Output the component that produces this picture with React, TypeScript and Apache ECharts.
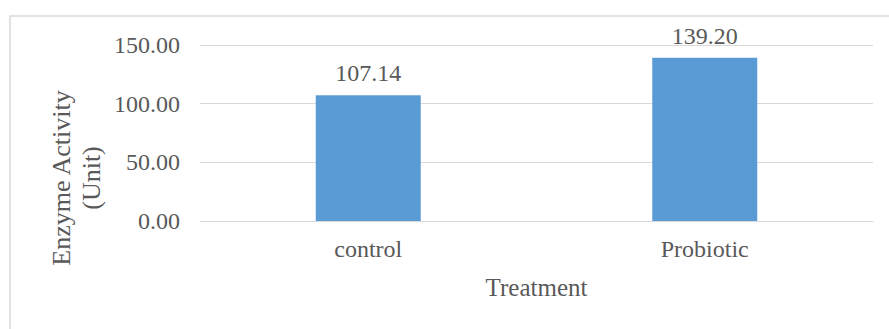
import React, { useEffect, useRef } from "react";
import * as echarts from "echarts";

const categories: string[] = ["control", "Probiotic"];
const activity: number[] = [107.14, 139.2];
const yTicks = { min: 0, max: 150, interval: 50 };

const FONT = '"Liberation Serif", "Times New Roman", serif';
const TEXT = "#595959";
const LINE = "#d9d9d9";
const BAR = "#5b9bd5";
const SIZE = 24;

export default function App() {
  const ref = useRef<HTMLDivElement>(null);

  useEffect(() => {
    if (!ref.current) return;
    const chart = echarts.init(ref.current, undefined, { renderer: "svg" });
    chart.setOption({
      animation: false,
      backgroundColor: "#ffffff",
      textStyle: { fontFamily: FONT },
      graphic: [
        {
          type: "rect",
          shape: { x: 10, y: 16, width: 900, height: 400 },
          style: { fill: "none", stroke: LINE, lineWidth: 1.5 },
          silent: true,
        },
        {
          type: "text",
          x: 76,
          y: 178,
          rotation: Math.PI / 2,
          style: {
            text: "Enzyme Activity\n(Unit)",
            fill: TEXT,
            font: `26px ${FONT}`,
            align: "center",
            verticalAlign: "middle",
            lineHeight: 30,
          },
        },
      ],
      grid: { left: 200, right: 16, top: 45, bottom: 108 },
      xAxis: {
        type: "category",
        data: categories,
        axisLine: { lineStyle: { color: LINE, width: 1 } },
        axisTick: { show: false },
        axisLabel: { color: TEXT, fontSize: SIZE, fontFamily: FONT, margin: 16 },
        name: "Treatment",
        nameLocation: "middle",
        nameGap: 54,
        nameTextStyle: { color: TEXT, fontSize: 25, fontFamily: FONT },
      },
      yAxis: {
        type: "value",
        min: yTicks.min,
        max: yTicks.max,
        interval: yTicks.interval,
        axisLine: { show: false },
        axisTick: { show: false },
        axisLabel: {
          color: TEXT,
          fontSize: SIZE,
          fontFamily: FONT,
          margin: 20,
          formatter: (v: number) => v.toFixed(2),
        },
        splitLine: { lineStyle: { color: LINE, width: 1 } },
      },
      series: [
        {
          type: "bar",
          data: activity,
          barWidth: 105,
          itemStyle: { color: BAR },
          label: {
            show: true,
            position: "top",
            distance: 10,
            color: TEXT,
            fontSize: SIZE,
            fontFamily: FONT,
            formatter: (p: any) => Number(p.value).toFixed(2),
          },
        },
      ],
    });
    return () => chart.dispose();
  }, []);

  return (
    <div
      ref={ref}
      style={{ position: "fixed", left: 0, top: 0, width: 889, height: 329 }}
    />
  );
}
